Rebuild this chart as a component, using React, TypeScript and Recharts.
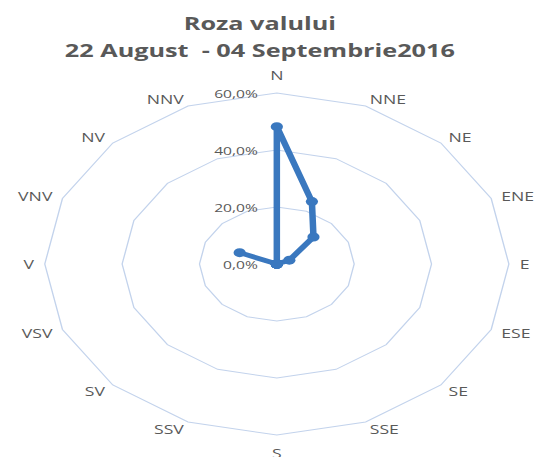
import React from "react";
import { RadarChart, Radar, PolarGrid, PolarAngleAxis, PolarRadiusAxis } from "recharts";

const directions = ["N", "NNE", "NE", "ENE", "E", "ESE", "SE", "SSE", "S", "SSV", "SV", "VSV", "V", "VNV", "NV", "NNV"];
const frequencies = [48.2, 23.7, 13.4, 3.5, 0, 0, 0, 0, 0, 0, 0, 0, 0, 10.4, 0, 0];
const radiusTicks = [0, 20, 40, 60];
const titleLines = ["Roza valului", "22 August  - 04 Septembrie2016"];

const data = directions.map((d, i) => ({ dir: d, value: frequencies[i] }));

const SX = 1.357;
const W = 397;
const H = 457;
const CX = 204;
const CY = 264;
const R = 171;
const FONT = "'Open Sans', sans-serif";
const GRAY = "#595959";
const BLUE = "#3a78bf";

const AngleTick = (props: any) => {
  const { x, y, payload } = props;
  const dx = x - CX;
  const dy = y - CY;
  const len = Math.hypot(dx, dy) || 1;
  const ux = dx / len;
  const uy = dy / len;
  const vertical = Math.abs(ux) < 0.1;
  const off = vertical ? 18 : 8;
  const px = CX + ux * (R + off);
  const py = CY + uy * (R + off);
  const anchor = vertical ? "middle" : ux > 0 ? "start" : "end";
  return (
    <text x={px} y={py} textAnchor={anchor} dominantBaseline="central" fill={GRAY} fontSize={13} fontFamily={FONT}>
      {payload.value}
    </text>
  );
};

const RadiusTick = (props: any) => {
  const { x, y, payload } = props;
  return (
    <text x={x - 14} y={y} textAnchor="end" dominantBaseline="central" fill={GRAY} fontSize={11.5} fontFamily={FONT}>
      {`${Number(payload.value).toFixed(1).replace(".", ",")}%`}
    </text>
  );
};

const Dot = (props: any) => {
  const { cx, cy, index } = props;
  return <circle key={`dot-${index}`} cx={cx} cy={cy} r={4.5} fill={BLUE} stroke="none" />;
};

export default function App() {
  return (
    <div style={{ position: "absolute", left: 0, top: 0, width: 539, height: 457, overflow: "hidden", background: "#fff" }}>
      <div style={{ position: "absolute", left: 0, top: 0, width: W, height: H, transform: `scaleX(${SX})`, transformOrigin: "0 0" }}>
        <div
          style={{
            position: "absolute",
            left: 0,
            top: 9,
            width: 383,
            textAlign: "center",
            fontFamily: FONT,
            fontWeight: 700,
            fontSize: 18.6,
            lineHeight: "27px",
            color: GRAY,
            zIndex: 2,
          }}
        >
          {titleLines.map((t) => (
            <div key={t} style={{ whiteSpace: "pre" }}>{t}</div>
          ))}
        </div>
        <RadarChart width={W} height={H} cx={CX} cy={CY} outerRadius={R} data={data} margin={{ top: 0, right: 0, bottom: 0, left: 0 }}>
          <PolarGrid gridType="polygon" radialLines={false} stroke="#c3d3ec" strokeWidth={1} />
          <PolarAngleAxis dataKey="dir" tick={AngleTick} tickLine={false} axisLine={false} />
          <PolarRadiusAxis angle={90} domain={[0, 60]} ticks={radiusTicks} tickCount={4} axisLine={false} tickLine={false} tick={RadiusTick} />
          <Radar
            dataKey="value"
            stroke={BLUE}
            strokeWidth={4.8}
            fill="none"
            fillOpacity={0}
            dot={Dot}
            isAnimationActive={false}
          />
        </RadarChart>
      </div>
    </div>
  );
}
